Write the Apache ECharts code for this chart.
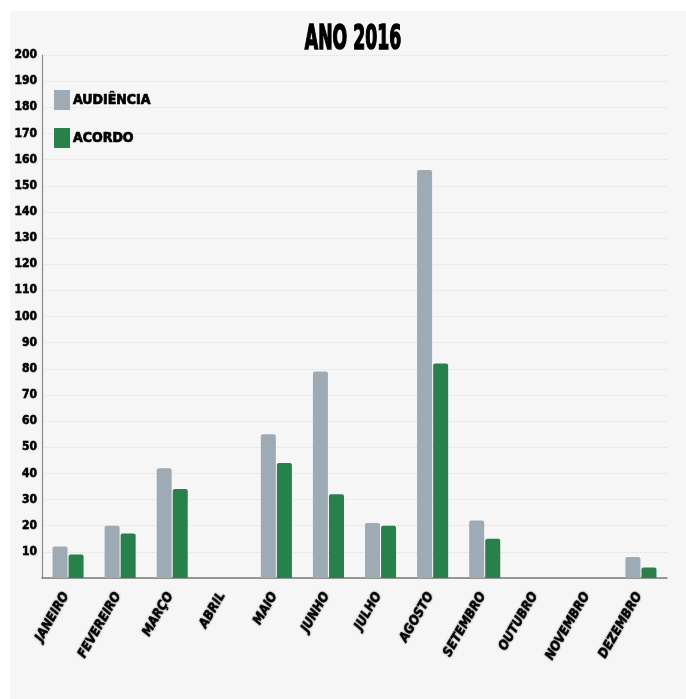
<!DOCTYPE html>
<html>
<head>
<meta charset="utf-8">
<script src="https://cdn.jsdelivr.net/npm/echarts@6/dist/echarts.min.js"></script>
<style>
  html, body { margin: 0; padding: 0; background: #ffffff; }
  #chart { position: absolute; left: 10px; top: 11px; width: 676px; height: 688px; background: #f6f6f6; }
</style>
</head>
<body>
<div id="chart"></div>
<script>
// Monthly counts for 2016
const months = ['JANEIRO', 'FEVEREIRO', 'MARÇO', 'ABRIL', 'MAIO', 'JUNHO',
                'JULHO', 'AGOSTO', 'SETEMBRO', 'OUTUBRO', 'NOVEMBRO', 'DEZEMBRO'];
const audiencia = [12, 20, 42, 0, 55, 79, 21, 156, 22, 0, 0, 8];
const acordo = [9, 17, 34, 0, 44, 32, 20, 82, 15, 0, 0, 4];
const yTicks = { min: 0, max: 200, step: 10 };

const condensed = "'DejaVu Sans Condensed', 'Liberation Sans Narrow', 'DejaVu Sans', sans-serif";

const chartEl = document.getElementById('chart');
const chart = echarts.init(chartEl);
chart.setOption({
  backgroundColor: '#f6f6f6',
  animation: false,
  // heavy, narrow headline: squeeze a bold face horizontally
  graphic: [{
    type: 'text',
    x: chartEl.clientWidth / 2 + 5,
    y: 29,
    scaleX: 0.58,
    style: {
      text: 'ANO 2016',
      fontFamily: condensed,
      fontWeight: 'bold',
      fontSize: 33,
      fill: '#000',
      textAlign: 'center',
      textVerticalAlign: 'middle',
      stroke: '#000',
      lineWidth: 1.6
    }
  }],
  legend: {
    orient: 'vertical',
    left: 39,
    top: 74,
    itemWidth: 16,
    itemHeight: 20,
    itemGap: 18,
    icon: 'rect',
    textStyle: {
      fontFamily: condensed, fontWeight: 'bold', fontSize: 14, color: '#000',
      textBorderColor: '#000', textBorderWidth: 0.7, padding: [0, 0, 0, -2]
    },
    data: ['AUDIÊNCIA', 'ACORDO']
  },
  grid: { left: 32, right: 19, top: 44, bottom: 121, containLabel: false },
  xAxis: {
    type: 'category',
    data: months,
    axisLine: { show: true, lineStyle: { color: '#7a7a7a', width: 1.5 } },
    axisTick: { show: false },
    axisLabel: {
      rotate: 60,
      margin: 12,
      interval: 0,
      padding: [0, 4, 11, 0],
      fontFamily: condensed,
      fontStyle: 'italic',
      fontWeight: 'bold',
      fontSize: 13,
      color: '#000',
      textBorderColor: '#000',
      textBorderWidth: 0.4,
      textShadowColor: 'rgba(0,0,0,0.5)',
      textShadowBlur: 2
    }
  },
  yAxis: {
    type: 'value',
    min: yTicks.min,
    max: yTicks.max,
    interval: yTicks.step,
    axisLine: { show: true, lineStyle: { color: '#8a8a8a', width: 1.2 } },
    axisTick: { show: false },
    axisLabel: {
      margin: 5,
      fontFamily: condensed,
      fontWeight: 'bold',
      fontSize: 12,
      color: '#000',
      textBorderColor: '#000',
      textBorderWidth: 0.4,
      textShadowColor: 'rgba(0,0,0,0.35)',
      textShadowBlur: 1,
      formatter: v => (v === 0 ? '' : String(v))
    },
    splitLine: { show: true, lineStyle: { color: '#dedede', type: 'dotted', width: 1 } }
  },
  series: [
    {
      name: 'AUDIÊNCIA',
      type: 'bar',
      data: audiencia,
      barWidth: 15,
      barGap: '7%',
      itemStyle: { color: '#9eabb5', borderRadius: [2, 2, 0, 0] }
    },
    {
      name: 'ACORDO',
      type: 'bar',
      data: acordo,
      barWidth: 15,
      itemStyle: { color: '#28804a', borderRadius: [2, 2, 0, 0] }
    }
  ]
});
</script>
</body>
</html>
